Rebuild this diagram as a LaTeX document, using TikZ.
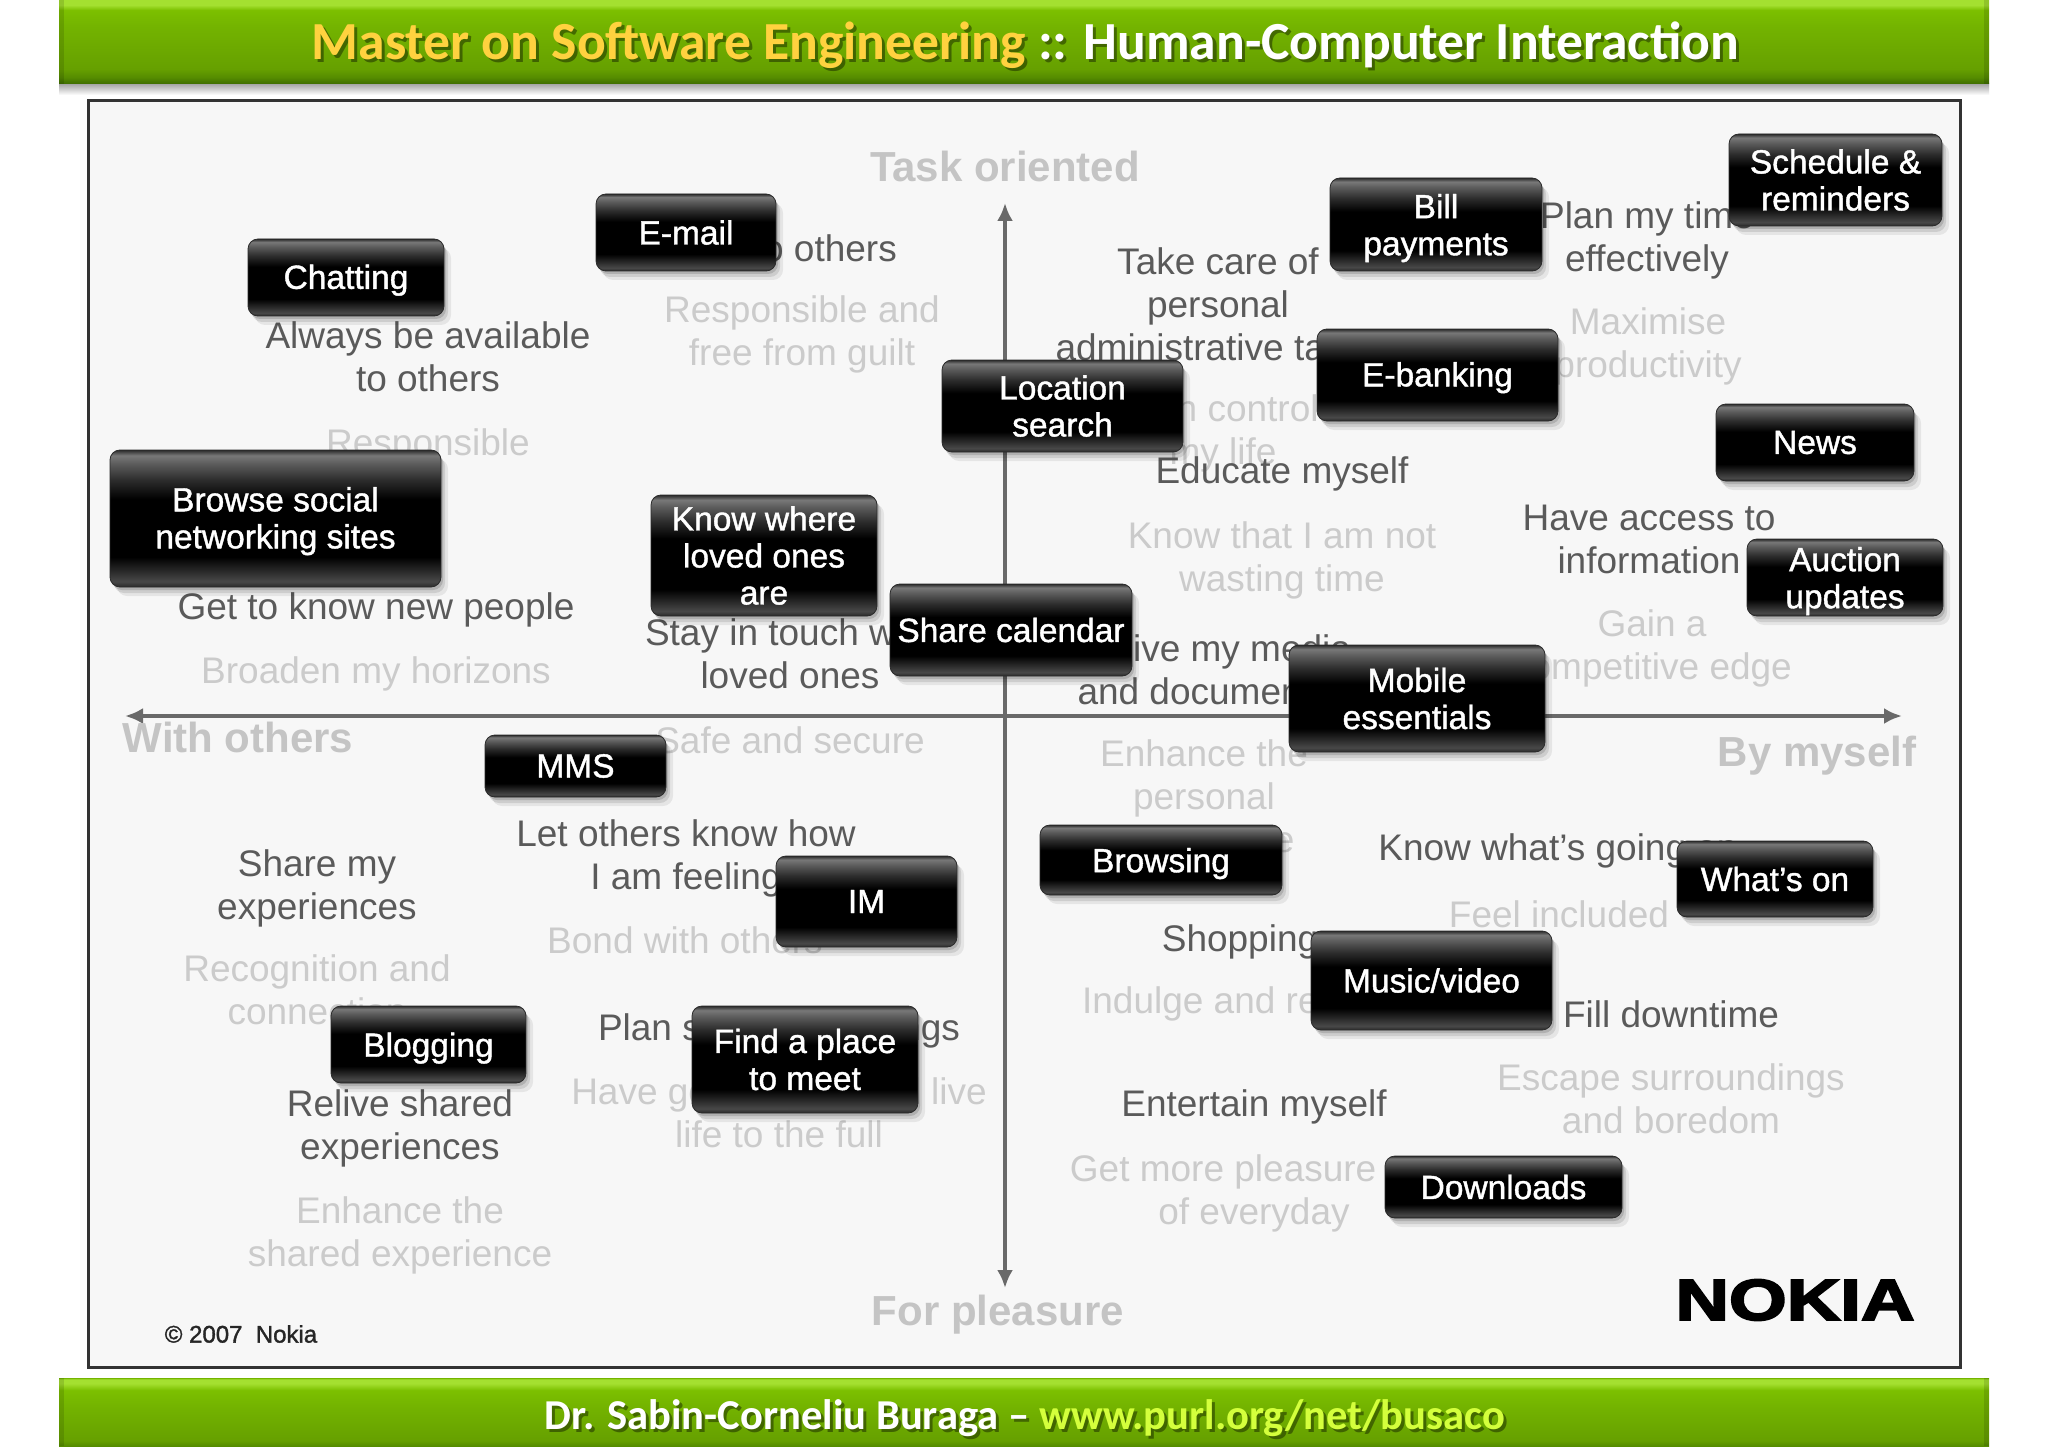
\documentclass[tikz,border=0pt]{standalone}
\usepackage{fontspec}
\usepackage{graphicx}
\usetikzlibrary{shadows,arrows.meta}
\setmainfont{Liberation Sans}
\newfontfamily\hdrfont{Carlito}
\newfontfamily\boxfont[FakeBold=1.2]{Liberation Sans}
\newfontfamily\copyfont[FakeBold=1.5]{Liberation Sans}
\newfontfamily\logofont[BoldFont={Liberation Sans Bold},BoldFeatures={FakeBold=3}]{Liberation Sans}
\newcommand\dn[1]{\rule{0pt}{\dimexpr 24.4pt+#1pt*2\relax}}
\definecolor{panelbg}{HTML}{F7F7F7}
\definecolor{darktxt}{HTML}{5A5A5A}
\definecolor{litetxt}{HTML}{CBCBCB}
\definecolor{axislbl}{HTML}{C4C4C4}
\definecolor{axisln}{HTML}{696969}
\definecolor{frameln}{HTML}{333333}
\definecolor{titleyel}{HTML}{FFD23F}
\definecolor{urlyel}{HTML}{D4FF3C}
\definecolor{gA}{HTML}{3E6C00}
\definecolor{gB}{HTML}{558C00}
\definecolor{gC}{HTML}{66A000}
\definecolor{gD}{HTML}{74B400}
\definecolor{gE}{HTML}{7CC000}
\definecolor{gF}{HTML}{A4E030}
\definecolor{bA}{HTML}{2A2A2A}
\definecolor{bB}{HTML}{484848}
\definecolor{bC}{HTML}{787878}
\definecolor{bD}{HTML}{5C5C5C}
\definecolor{bE}{HTML}{2C2C2C}
\pgfdeclareverticalshading{hdrgloss}{100bp}{color(0bp)=(gA);color(25bp)=(gA);color(29bp)=(gB);color(34bp)=(gC);color(60bp)=(gD);color(69bp)=(gE);color(72bp)=(gF);color(75bp)=(gF);color(100bp)=(gF)}
\pgfdeclareverticalshading{ftrgloss}{100bp}{color(0bp)=(gB);color(25bp)=(gB);color(29bp)=(gC);color(55bp)=(gD);color(66bp)=(gE);color(71bp)=(gF);color(74bp)=(gF);color(75bp)=(gD);color(100bp)=(gD)}
\pgfdeclareverticalshading{hdrfall}{100bp}{color(0bp)=(white);color(25bp)=(white);color(75bp)=(black!35);color(100bp)=(black!35)}
\pgfdeclareverticalshading{boxgloss}{100bp}{color(0bp)=(bB);color(25bp)=(bA);color(27bp)=(bB);color(36bp)=(black);color(57bp)=(black);color(64bp)=(bE);color(70bp)=(bD);color(73bp)=(bC);color(75bp)=(bA);color(100bp)=(bA)}
\tikzset{
  appbox/.style={rectangle,rounded corners=10pt,shading=boxgloss,draw=bA,line width=.8pt,
    inner sep=0pt,align=center,text=white,font=\boxfont\fontsize{33.5}{37}\selectfont,
    drop shadow={shadow xshift=7pt,shadow yshift=-9pt,opacity=.07,fill=black},
    drop shadow={shadow xshift=4pt,shadow yshift=-6pt,opacity=.10,fill=black},
    drop shadow={shadow xshift=2pt,shadow yshift=-3pt,opacity=.14,fill=black}},
  darktext/.style={inner sep=0pt,align=center,text=darktxt,font=\fontsize{37}{43}\selectfont},
  litetext/.style={inner sep=0pt,align=center,text=litetxt,font=\fontsize{37}{43}\selectfont},
  axistext/.style={inner sep=0pt,text=axislbl,font=\fontsize{42}{46}\selectfont\bfseries},
  axisline/.style={draw=axisln,line width=4.5pt,{Latex[length=18pt,width=16pt]}-{Latex[length=18pt,width=16pt]}},
  hdrtext/.style={inner sep=0pt,font=\hdrfont\bfseries\fontsize{53.6}{58}\selectfont},
  ftrtext/.style={inner sep=0pt,font=\hdrfont\bfseries\fontsize{42.6}{46}\selectfont},
  shadowtext/.style={text=black,opacity=.4}
}
\begin{document}
\begin{tikzpicture}[x=1pt,y=-1pt]
\useasboundingbox (0,0) rectangle (2048,1447);
\fill[white] (0,0) rectangle (2048,1447);
% header and footer bars
\fill[shading=hdrfall] (59,84) rectangle (1989,95);
\fill[shading=hdrgloss] (59,0) rectangle (1989,84);
\fill[black,opacity=.12] (59,0) rectangle (64,84);
\fill[black,opacity=.12] (1984,0) rectangle (1989,84);
\fill[shading=ftrgloss] (59,1378) rectangle (1989,1446);
\fill[black,opacity=.12] (59,1378) rectangle (64,1446);
\fill[black,opacity=.12] (1984,1378) rectangle (1989,1446);
\node[hdrtext,shadowtext] (titleshadow) at (1028.5,48) {Master on Software Engineering :: Human-Computer Interaction};
\node[hdrtext] (title) at (1025.5,45) {\textcolor{titleyel}{Master on Software Engineering} \textcolor{white}{:: Human-Computer Interaction}};
\node[ftrtext,shadowtext] (footershadow) at (1028,1421) {Dr. Sabin-Corneliu Buraga – www.purl.org/net/busaco};
\node[ftrtext] (footer) at (1025,1418) {\textcolor{white}{Dr. Sabin-Corneliu Buraga –} \textcolor{urlyel}{www.purl.org/net/busaco}};
% panel
\draw[fill=panelbg,draw=frameln,line width=3pt] (88.5,101) rectangle (1960,1367);
% axes
\coordinate (axl) at (125,716);
\coordinate (axr) at (1902,716);
\coordinate (axt) at (1005,203);
\coordinate (axb) at (1005,1288);
\draw[axisline] (axl) -- (axr);
\draw[axisline] (axt) -- (axb);
% axis labels
\node[axistext] (task) at (1005,166) {Task oriented};
\node[axistext] (pleasure) at (998,1315) {For pleasure};
\node[axistext] (withothers) at (238,737) {With others};
\node[axistext] (byself) at (1817,756) {By myself};
% light texts
\node[litetext] (l1) at (802,334) {Responsible and\\free from guilt};
\node[litetext] (l2) at (428,446) {Responsible};
\node[litetext] (l3) at (376,674) {Broaden my horizons};
\node[litetext] (l4) at (790,740) {Safe and secure};
\node[litetext] (l5) at (1648,346) {Maximise\\productivity};
\node[litetext] (l6) at (1223,433) {Feel in control of\\my life};
\node[litetext] (l7) at (1282,560) {Know that I am not\\wasting time};
\node[litetext] (l8) at (1652,648) {Gain a\\competitive edge};
\node[litetext] (l9) at (1204,800) {Enhance the\\personal\\experience};
\node[litetext] (l10) at (317,990) {Recognition and\\connection};
\node[litetext] (l11) at (685,940) {Bond with others};
\node[litetext] (l12) at (779,1113) {Have good times and live\\life to the full};
\node[litetext] (l13) at (400,1235) {Enhance the\\shared experience};
\node[litetext] (l14) at (1224,1004) {Indulge and relax};
\node[litetext] (l15) at (1559,914) {Feel included};
\node[litetext] (l16) at (1671,1099) {Escape surroundings\\and boredom};
\node[litetext] (l17) at (1254,1193) {Get more pleasure out\\of everyday};
% dark texts
\node[darktext] (d1) at (428,357) {Always be available\\to others};
\node[darktext,anchor=east] (d2) at (897,248) {to others};
\node[darktext] (d3) at (1218,304) {Take care of\\personal\\administrative tasks};
\node[darktext] (d4) at (1647,240) {Plan my time\\effectively};
\node[darktext] (d5) at (1282,474) {Educate myself};
\node[darktext] (d6) at (1649,539) {Have access to\\information};
\node[darktext] (d7) at (376,610) {Get to know new people};
\node[darktext] (d8) at (790,654) {Stay in touch with\\loved ones};
\node[darktext] (d9) at (1204,670) {Archive my media\\and documents};
\node[darktext] (d10) at (686,858) {Let others know how\\I am feeling};
\node[darktext] (d11) at (317,888) {Share my\\experiences};
\node[darktext] (d12) at (779,1031) {Plan social gatherings};
\node[darktext] (d13) at (400,1128) {Relive shared\\experiences};
\node[darktext] (d14) at (1558,851) {Know what’s going on};
\node[darktext] (d15) at (1240,942) {Shopping};
\node[darktext] (d16) at (1671,1014) {Fill downtime};
\node[darktext] (d17) at (1254,1107) {Entertain myself};
% black boxes
\node[appbox,minimum width=196pt,minimum height=77pt] (chat) at (346,277.5) {\dn{2.6}Chatting};
\node[appbox,minimum width=180pt,minimum height=77pt] (mail) at (686,232.5) {E-mail};
\node[appbox,minimum width=331pt,minimum height=137pt] (social) at (275.5,518.5) {\dn{2.6}Browse social\\networking sites};
\node[appbox,minimum width=226pt,minimum height=121pt] (loved) at (764,555.5) {Know where\\loved ones\\are};
\node[appbox,minimum width=241pt,minimum height=92pt] (loc) at (1062.5,406) {Location\\search};
\node[appbox,minimum width=242pt,minimum height=92pt] (cal) at (1011,630) {Share calendar};
\node[appbox,minimum width=212pt,minimum height=93pt] (bill) at (1436,224.5) {\dn{3.5}Bill\\payments};
\node[appbox,minimum width=213pt,minimum height=92pt] (sched) at (1835.5,180) {Schedule \&\\reminders};
\node[appbox,minimum width=241pt,minimum height=92pt] (bank) at (1437.5,375) {\dn{2.6}E-banking};
\node[appbox,minimum width=198pt,minimum height=77pt] (news) at (1815,442.5) {News};
\node[appbox,minimum width=196pt,minimum height=77pt] (auction) at (1845,577.5) {\dn{3.5}Auction\\updates};
\node[appbox,minimum width=256pt,minimum height=107pt] (mobile) at (1417,698.5) {Mobile\\essentials};
\node[appbox,minimum width=181pt,minimum height=62pt] (mms) at (575.5,766) {MMS};
\node[appbox,minimum width=181pt,minimum height=91pt] (im) at (866.5,901.5) {IM};
\node[appbox,minimum width=195pt,minimum height=77pt] (blog) at (428.5,1044.5) {\dn{3.5}Blogging};
\node[appbox,minimum width=226pt,minimum height=107pt] (find) at (805,1059.5) {Find a place\\to meet};
\node[appbox,minimum width=242pt,minimum height=70pt] (browse) at (1161,860) {\dn{3.5}Browsing};
\node[appbox,minimum width=196pt,minimum height=76pt] (whats) at (1775,879) {What’s on};
\node[appbox,minimum width=241pt,minimum height=99pt] (music) at (1431.5,980.5) {Music/video};
\node[appbox,minimum width=237pt,minimum height=62pt] (down) at (1503.5,1187) {Downloads};
% footer marks of the panel
\node[inner sep=0pt,text=black!85,font=\copyfont\fontsize{24}{26}\selectfont] (copy) at (241,1334) {© 2007\ \ Nokia};
\node[inner sep=0pt,text=black,font=\logofont\bfseries\fontsize{58}{60}\selectfont] (nokia) at (1795,1300) {\scalebox{1.28}[1]{NOKIA}};
\end{tikzpicture}
\end{document}
